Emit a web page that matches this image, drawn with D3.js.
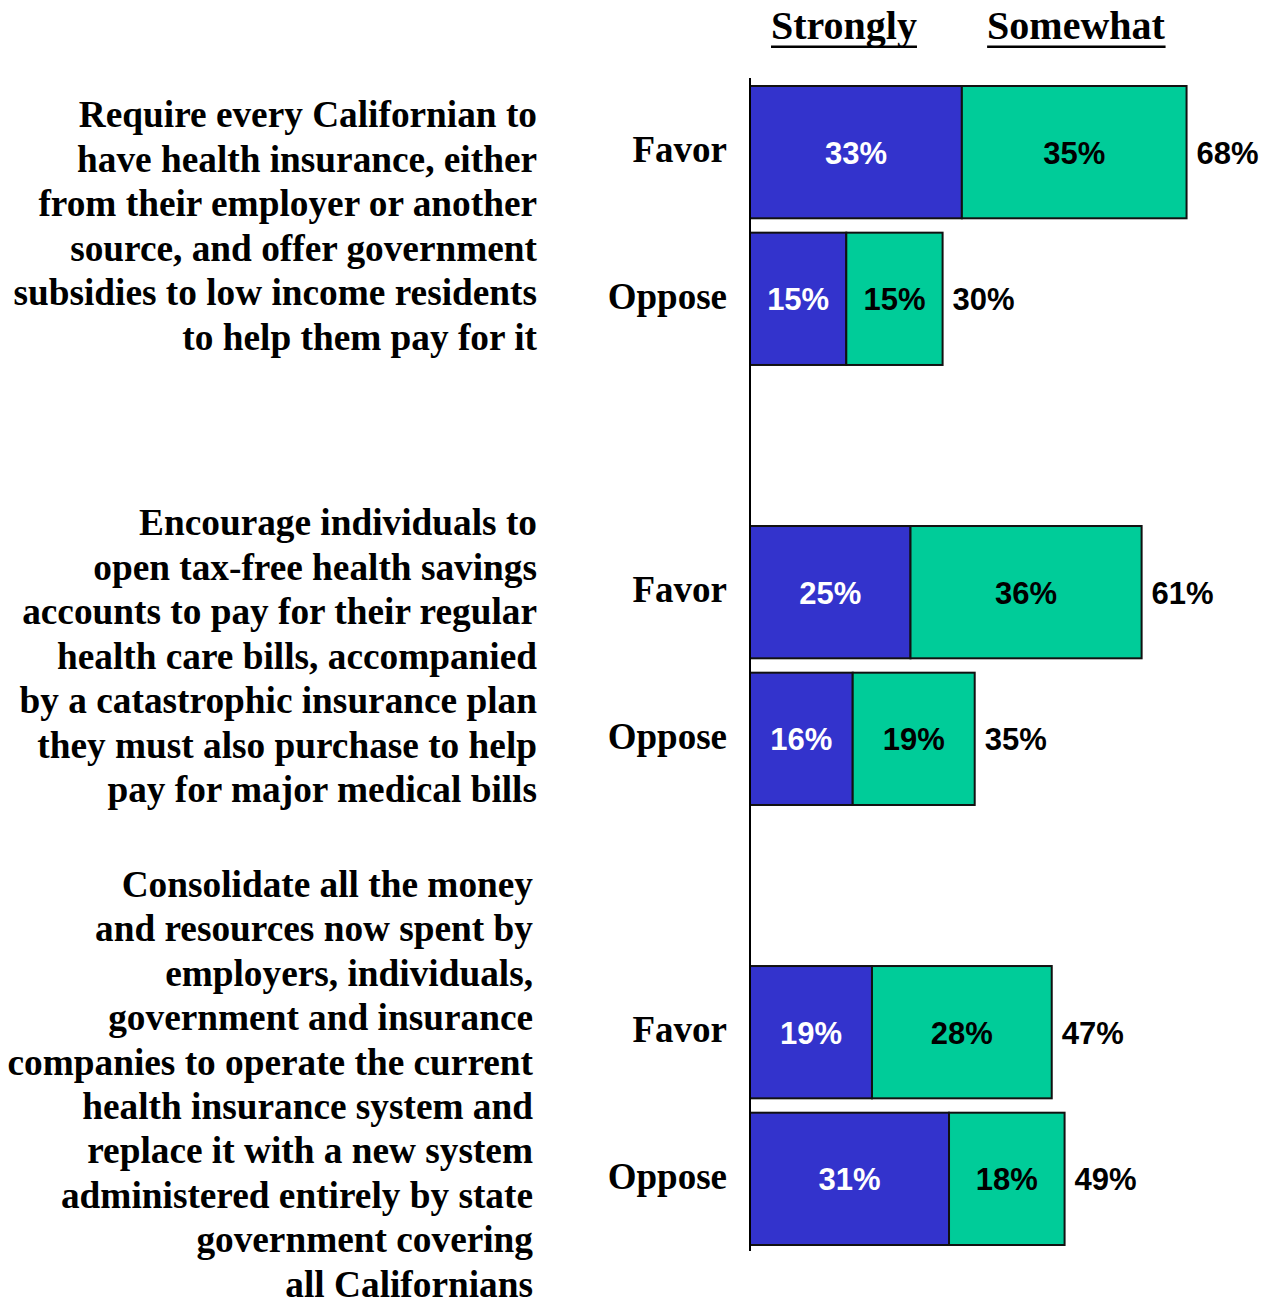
<!DOCTYPE html>
<html>
<head>
<meta charset="utf-8">
<script src="https://cdn.jsdelivr.net/npm/d3@7"></script>
<style>
  html, body { margin: 0; padding: 0; background: #fff; }
  svg { display: block; }
</style>
</head>
<body>
<svg id="chart" width="1268" height="1305"></svg>
<script>
// ---- data ----
const questions = [
  ["Require every Californian to", "have health insurance, either", "from their employer or another",
   "source, and offer government", "subsidies to low income residents", "to help them pay for it"],
  ["Encourage individuals to", "open tax-free health savings", "accounts to pay for their regular",
   "health care bills, accompanied", "by a catastrophic insurance plan", "they must also purchase to help",
   "pay for major medical bills"],
  ["Consolidate all the money", "and resources now spent by", "employers, individuals,",
   "government and insurance", "companies to operate the current", "health insurance system and",
   "replace it with a new system", "administered entirely by state", "government covering", "all Californians"]
];
const groups = ["Q1", "Q2", "Q3"];
const responses = ["Favor", "Oppose"];
const stronglyValues = [[33, 15], [25, 16], [19, 31]];
const somewhatValues = [[35, 15], [36, 19], [28, 18]];
const totalValues = [[68, 30], [61, 35], [47, 49]];
const seriesNames = ["Strongly", "Somewhat"];

// ---- layout ----
const svg = d3.select("#chart");
const colors = ["#3333CC", "#00CC99"];
const serif = "'Liberation Serif', 'Times New Roman', Times, serif";
const sans = "'Liberation Sans', Arial, Helvetica, sans-serif";

const x = d3.scaleLinear().domain([0, 100]).range([750, 1392]);
const yGroup = d3.scaleBand().domain(groups).range([86, 1245]).paddingInner(0.366).paddingOuter(0);
const yResp = d3.scaleBand().domain(responses).range([0, yGroup.bandwidth()]).paddingInner(0.098).paddingOuter(0);

// headers
const headerX = [844, 1076];
seriesNames.forEach((name, i) => {
  const t = svg.append("text")
    .attr("x", headerX[i]).attr("y", 39)
    .attr("text-anchor", "middle")
    .attr("font-family", serif).attr("font-weight", "bold").attr("font-size", 40)
    .attr("fill", "#000")
    .text(name);
  const bb = t.node().getBBox();
  svg.append("rect")
    .attr("x", bb.x).attr("y", 45.5).attr("width", bb.width).attr("height", 2.5)
    .attr("fill", "#000");
});

// question text blocks
const qRight = [537, 537, 533];
const qFirstBaseline = [127, 535, 897];
const qLineStep = [44.5, 44.5, 44.4];
questions.forEach((lines, gi) => {
  const t = svg.append("text")
    .attr("font-family", serif).attr("font-weight", "bold").attr("font-size", 37.3)
    .attr("text-anchor", "end").attr("fill", "#000");
  lines.forEach((ln, li) => {
    t.append("tspan").attr("x", qRight[gi]).attr("y", qFirstBaseline[gi] + li * qLineStep[gi]).text(ln);
  });
});

// bars
groups.forEach((g, gi) => {
  responses.forEach((r, ri) => {
    const y0 = yGroup(g) + yResp(r);
    const h = yResp.bandwidth();
    const cy = y0 + h / 2;
    const s = stronglyValues[gi][ri], w = somewhatValues[gi][ri], tot = totalValues[gi][ri];
    const segs = [[0, s], [s, s + w]];
    const vals = [s, w];
    segs.forEach((sg, si) => {
      svg.append("rect")
        .attr("x", x(sg[0])).attr("y", y0)
        .attr("width", x(sg[1]) - x(sg[0])).attr("height", h)
        .attr("fill", colors[si]).attr("stroke", "#111").attr("stroke-width", 2);
      svg.append("text")
        .attr("x", (x(sg[0]) + x(sg[1])) / 2).attr("y", cy + 11.5)
        .attr("text-anchor", "middle")
        .attr("font-family", sans).attr("font-weight", "bold").attr("font-size", 31)
        .attr("fill", si === 0 ? "#fff" : "#000")
        .text(vals[si] + "%");
    });
    svg.append("text")
      .attr("x", x(s + w) + 10).attr("y", cy + 11.5)
      .attr("font-family", sans).attr("font-weight", "bold").attr("font-size", 31)
      .attr("fill", "#000")
      .text(tot + "%");
    svg.append("text")
      .attr("x", 727).attr("y", cy + 10)
      .attr("text-anchor", "end")
      .attr("font-family", serif).attr("font-weight", "bold").attr("font-size", 37)
      .attr("fill", "#000")
      .text(r);
  });
});

// axis line
svg.append("line")
  .attr("x1", x(0)).attr("x2", x(0)).attr("y1", 78).attr("y2", 1251)
  .attr("stroke", "#000").attr("stroke-width", 2);
</script>
</body>
</html>
